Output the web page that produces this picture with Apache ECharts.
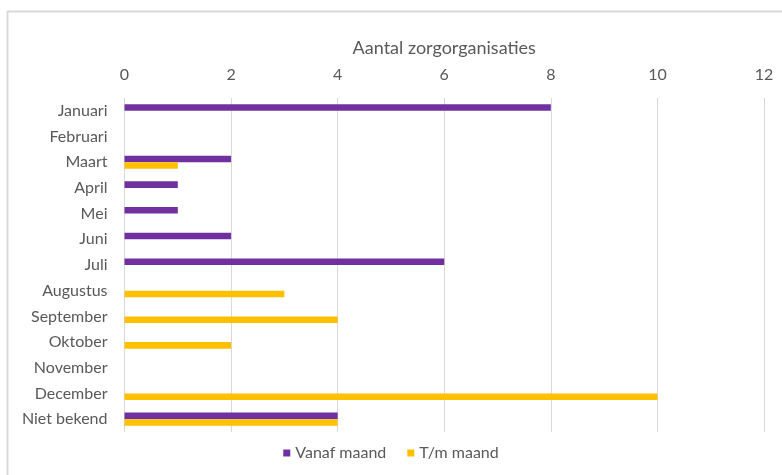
<!DOCTYPE html>
<html>
<head>
<meta charset="utf-8">
<script src="https://cdn.jsdelivr.net/npm/echarts@6/dist/echarts.min.js"></script>
<style>
  html, body { margin: 0; padding: 0; background: #ffffff; }
  #chart { width: 782px; height: 475px; }
</style>
</head>
<body>
<div id="chart"></div>
<script>
// Months (plus an "unknown" bucket) on the category axis
const months = ['Januari', 'Februari', 'Maart', 'April', 'Mei', 'Juni', 'Juli',
  'Augustus', 'September', 'Oktober', 'November', 'December', 'Niet bekend'];

// Number of care organisations per month
const vanafMaand = [8, 0, 2, 1, 1, 2, 6, 0, 0, 0, 0, 0, 4];
const tmMaand    = [0, 0, 1, 0, 0, 0, 0, 3, 4, 2, 0, 10, 4];

const seriesNames = ['Vanaf maand', 'T/m maand'];
const axisTitle = 'Aantal zorgorganisaties';
const xTicks = [0, 2, 4, 6, 8, 10, 12];

const textColor = '#595959';
const fontFamily = 'Lato, "Open Sans", sans-serif';

const chart = echarts.init(document.getElementById('chart'), null, { renderer: 'canvas' });

chart.setOption({
  animation: false,
  backgroundColor: '#ffffff',
  color: ['#7030A0', '#FFC000'],
  textStyle: { fontFamily: fontFamily, color: textColor },
  graphic: [{
    type: 'rect',
    shape: { x: 7.5, y: 11.5, width: 800, height: 500 },
    style: { fill: 'none', stroke: '#D9D9D9', lineWidth: 2 },
    silent: true
  }],
  grid: { left: 124.5, right: 18, top: 98, bottom: 43, containLabel: false },
  legend: {
    bottom: 9,
    left: 'center',
    icon: 'rect',
    itemWidth: 7,
    itemHeight: 7,
    itemGap: 21,
    textStyle: { fontSize: 16, color: textColor, fontFamily: fontFamily },
    data: seriesNames
  },
  xAxis: {
    type: 'value',
    position: 'top',
    min: xTicks[0],
    max: xTicks[xTicks.length - 1],
    interval: xTicks[1] - xTicks[0],
    name: axisTitle,
    nameLocation: 'middle',
    nameGap: 41,
    nameTextStyle: { fontSize: 18, color: textColor, fontFamily: fontFamily },
    axisLine: { show: false },
    axisTick: { show: false },
    axisLabel: { fontSize: 16, color: textColor, margin: 15, fontFamily: fontFamily },
    splitLine: { show: true, lineStyle: { color: '#D9D9D9', width: 1 } }
  },
  yAxis: {
    type: 'category',
    inverse: true,
    data: months,
    axisLine: { show: false },
    axisTick: { show: false },
    axisLabel: { fontSize: 16, color: textColor, margin: 17, fontFamily: fontFamily }
  },
  series: [
    {
      name: seriesNames[0],
      type: 'bar',
      data: vanafMaand,
      barGap: '0%',
      barCategoryGap: '49%'
    },
    {
      name: seriesNames[1],
      type: 'bar',
      data: tmMaand,
      barGap: '0%',
      barCategoryGap: '49%'
    }
  ]
});
</script>
</body>
</html>
